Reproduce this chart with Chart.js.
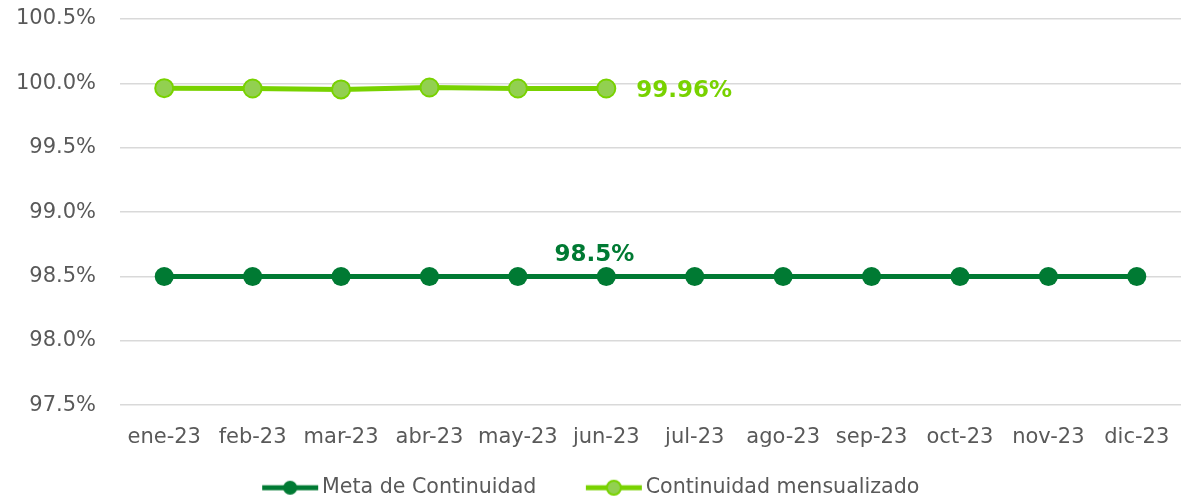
<!DOCTYPE html>
<html>
<head>
<meta charset="utf-8">
<script src="https://cdn.jsdelivr.net/npm/chart.js"></script>
<style>
  html, body { margin: 0; padding: 0; background: #fff; overflow: hidden; }
  #wrap { width: 1192px; height: 501px; }
</style>
</head>
<body>
<div id="wrap"><canvas id="chart"></canvas></div>
<script>
// chart values
var months = ['ene-23', 'feb-23', 'mar-23', 'abr-23', 'may-23', 'jun-23',
              'jul-23', 'ago-23', 'sep-23', 'oct-23', 'nov-23', 'dic-23'];
var metaValues = [98.5, 98.5, 98.5, 98.5, 98.5, 98.5, 98.5, 98.5, 98.5, 98.5, 98.5, 98.5];
var continuidadValues = [99.963, 99.96, 99.953, 99.968, 99.96, 99.96, null, null, null, null, null, null];
var metaLabel = '98.5%';
var continuidadLabel = '99.96%';

var darkGreen = '#007a33';
var limeGreen = '#78d200';
var limeFill = '#92d050';
var textGray = '#595959';

/**
 * Build a legend swatch: line with a dot in the middle.
 * Left part is left blank so the items sit further apart.
 */
var makeSwatch = function(lineColor, dotColor, borderColor) {
    var c = document.createElement('canvas');
    c.width = 114;
    c.height = 20;
    var g = c.getContext('2d');
    g.strokeStyle = lineColor;
    g.lineWidth = 5;
    g.lineCap = 'butt';
    g.beginPath();
    g.moveTo(52, 10);
    g.lineTo(108, 10);
    g.stroke();
    g.fillStyle = dotColor;
    g.beginPath();
    g.arc(80, 10, 7, 0, Math.PI * 2);
    g.fill();
    if (borderColor) {
        g.strokeStyle = borderColor;
        g.lineWidth = 2;
        g.stroke();
    }
    return c;
};

var swatches = [
    makeSwatch(darkGreen, darkGreen),
    makeSwatch(limeGreen, limeFill, limeGreen)
];

// value labels next to the last point of each series
var valueLabels = {
    id: 'valueLabels',
    afterDatasetsDraw: function(chart) {
        var ctx = chart.ctx;
        var x = chart.scales.x;
        var y = chart.scales.y;
        ctx.save();
        ctx.font = 'bold 23px "DejaVu Sans"';
        ctx.textBaseline = 'middle';

        ctx.fillStyle = darkGreen;
        ctx.textAlign = 'center';
        ctx.fillText(metaLabel, x.getPixelForValue(5) - 12, y.getPixelForValue(metaValues[5]) - 21);

        ctx.fillStyle = limeGreen;
        ctx.textAlign = 'left';
        ctx.fillText(continuidadLabel, x.getPixelForValue(5) + 30, y.getPixelForValue(continuidadValues[5]) + 3);
        ctx.restore();
    }
};

// the blank part of the first swatch pushes the legend right; pull it back
var legendShift = {
    id: 'legendShift',
    afterLayout: function(chart) {
        chart.legend.left -= 25;
        chart.legend.right -= 25;
    }
};

new Chart(document.getElementById('chart'), {
    type: 'line',
    data: {
        labels: months,
        datasets: [{
            label: 'Meta de Continuidad',
            data: metaValues,
            borderColor: darkGreen,
            backgroundColor: darkGreen,
            borderWidth: 5,
            pointRadius: 9.5,
            pointBorderWidth: 0,
            pointBackgroundColor: darkGreen,
            tension: 0
        }, {
            label: 'Continuidad mensualizado',
            data: continuidadValues,
            borderColor: limeGreen,
            backgroundColor: limeFill,
            borderWidth: 5,
            pointRadius: 9,
            pointBorderWidth: 2,
            pointBorderColor: limeGreen,
            pointBackgroundColor: limeFill,
            tension: 0
        }]
    },
    options: {
        responsive: true,
        maintainAspectRatio: false,
        animation: false,
        layout: {
            padding: {top: 0, bottom: -7, left: 0, right: 0}
        },
        scales: {
            x: {
                offset: true,
                grid: {display: false},
                border: {display: false},
                afterFit: function(scale) {
                    scale.height += 5;
                },
                ticks: {
                    color: textGray,
                    font: {family: 'DejaVu Sans', size: 21},
                    padding: 12,
                    maxRotation: 0
                }
            },
            y: {
                min: 97.5,
                max: 100.5,
                afterFit: function(scale) {
                    scale.width = 120;
                    scale.paddingTop = 19;
                    scale.paddingBottom = 0;
                },
                grid: {color: '#d9d9d9', lineWidth: 1.5, drawTicks: false},
                border: {display: false},
                ticks: {
                    stepSize: 0.5,
                    color: textGray,
                    font: {family: 'DejaVu Sans', size: 21},
                    padding: 24,
                    callback: function(value) {
                        return value.toFixed(1) + '%';
                    }
                }
            }
        },
        plugins: {
            legend: {
                position: 'bottom',
                labels: {
                    color: textGray,
                    font: {family: 'DejaVu Sans', size: 20.6},
                    usePointStyle: true,
                    pointStyleWidth: 89,
                    padding: 10,
                    generateLabels: function(chart) {
                        return chart.data.datasets.map(function(ds, i) {
                            return {
                                text: ds.label,
                                fontColor: textGray,
                                pointStyle: swatches[i],
                                datasetIndex: i,
                                lineWidth: 0,
                                strokeStyle: 'transparent',
                                fillStyle: 'transparent'
                            };
                        });
                    }
                }
            },
            tooltip: {enabled: false}
        }
    },
    plugins: [valueLabels, legendShift]
});
</script>
</body>
</html>
